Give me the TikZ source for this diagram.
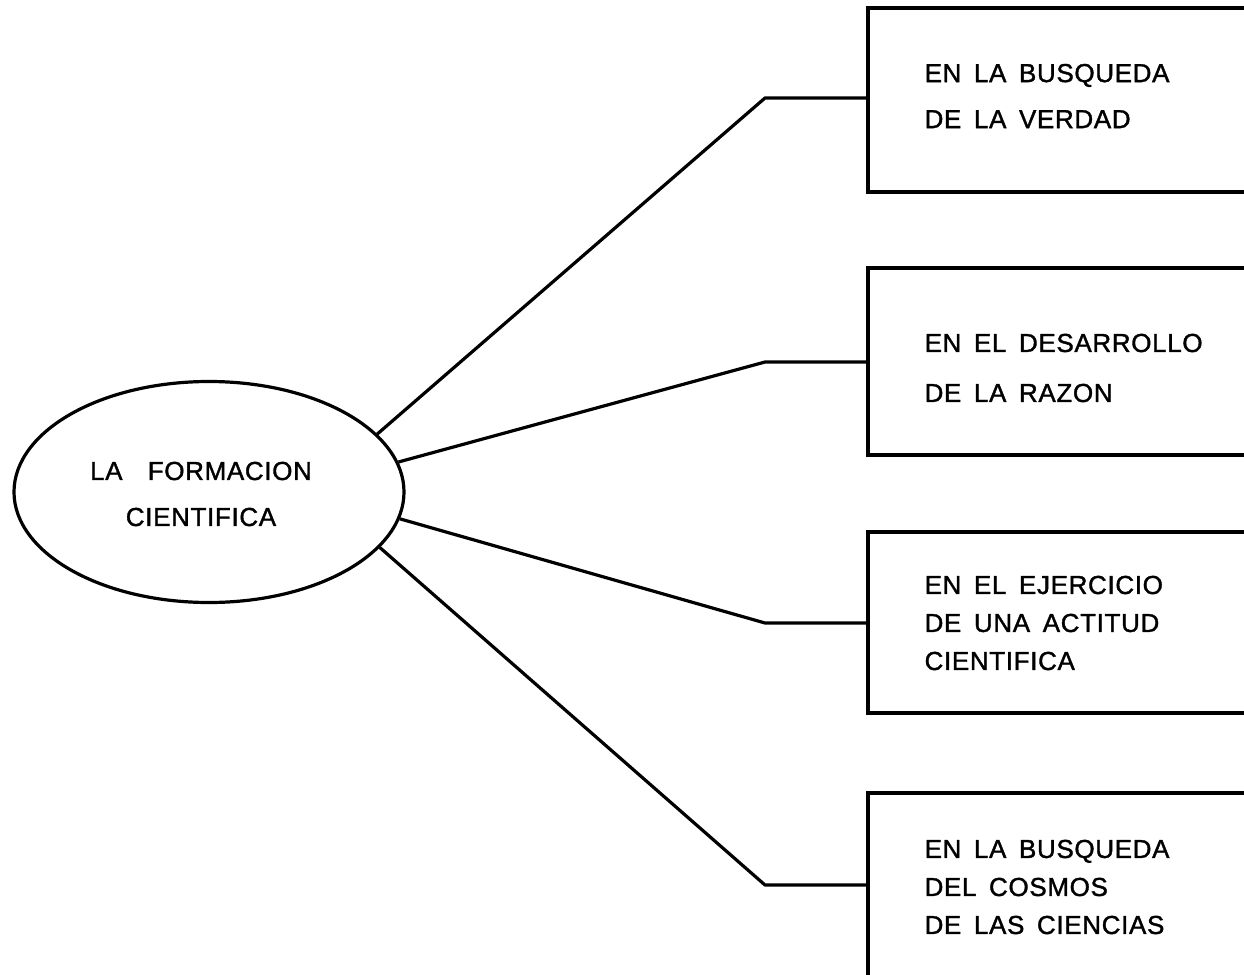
\documentclass[tikz,border=0pt]{standalone}
\usepackage{fontspec}
\usetikzlibrary{shapes.geometric}
\newfontfamily\lett[LetterSpace=2.5,WordSpace=1.6,FakeBold=1.4]{Liberation Sans}
\begin{document}
\begin{tikzpicture}[x=1pt,y=-1pt,
  line width=3.2pt,
  boxshape/.style={draw, rectangle, inner sep=0pt, minimum width=422pt},
  txt/.style={anchor=west, inner sep=0pt, align=left},
  conn/.style={line join=round}]
\useasboundingbox (0,0) rectangle (1244,974);
\clip (0,0) rectangle (1244,974);
\fill[white] (0,0) rectangle (1244,974);
% central ellipse
\node[draw, ellipse, inner sep=0pt, minimum width=390pt, minimum height=221pt] (ell) at (209,492) {};
\node[inner sep=0pt, align=center, font={\lett\fontsize{26}{46}\selectfont}] (elltxt) at (201,494) {LA\ \ FORMACION\\CIENTIFICA};
% boxes
\node[boxshape, minimum height=184pt] (box1) at (1079,100) {};
\node[boxshape, minimum height=187pt] (box2) at (1079,361.5) {};
\node[boxshape, minimum height=181pt] (box3) at (1079,622.5) {};
\node[boxshape, minimum height=217pt] (box4) at (1079,901.5) {};
% texts
\node[txt, font={\lett\fontsize{26}{46}\selectfont}] (t1) at (923,96) {EN LA BUSQUEDA\\DE LA VERDAD};
\node[txt, font={\lett\fontsize{26}{50}\selectfont}] (t2) at (923,368) {EN EL DESARROLLO\\DE LA RAZON};
\node[txt, font={\lett\fontsize{26}{38}\selectfont}] (t3) at (923,623) {EN EL EJERCICIO\\DE UNA ACTITUD\\CIENTIFICA};
\node[txt, font={\lett\fontsize{26}{38}\selectfont}] (t4) at (923,887) {EN LA BUSQUEDA\\DEL COSMOS\\DE LAS CIENCIAS};
% bends
\coordinate (b1) at (765,98);
\coordinate (b2) at (765,362);
\coordinate (b3) at (765,623);
\coordinate (b4) at (765,885);
% connectors
\draw[conn] (ell.19) -- (b1) -- (b1 -| box1.west);
\draw[conn] (ell.9) -- (b2) -- (b2 -| box2.west);
\draw[conn] (ell.-8.5) -- (b3) -- (b3 -| box3.west);
\draw[conn] (ell.-18.5) -- (b4) -- (b4 -| box4.west);
\end{tikzpicture}
\end{document}
